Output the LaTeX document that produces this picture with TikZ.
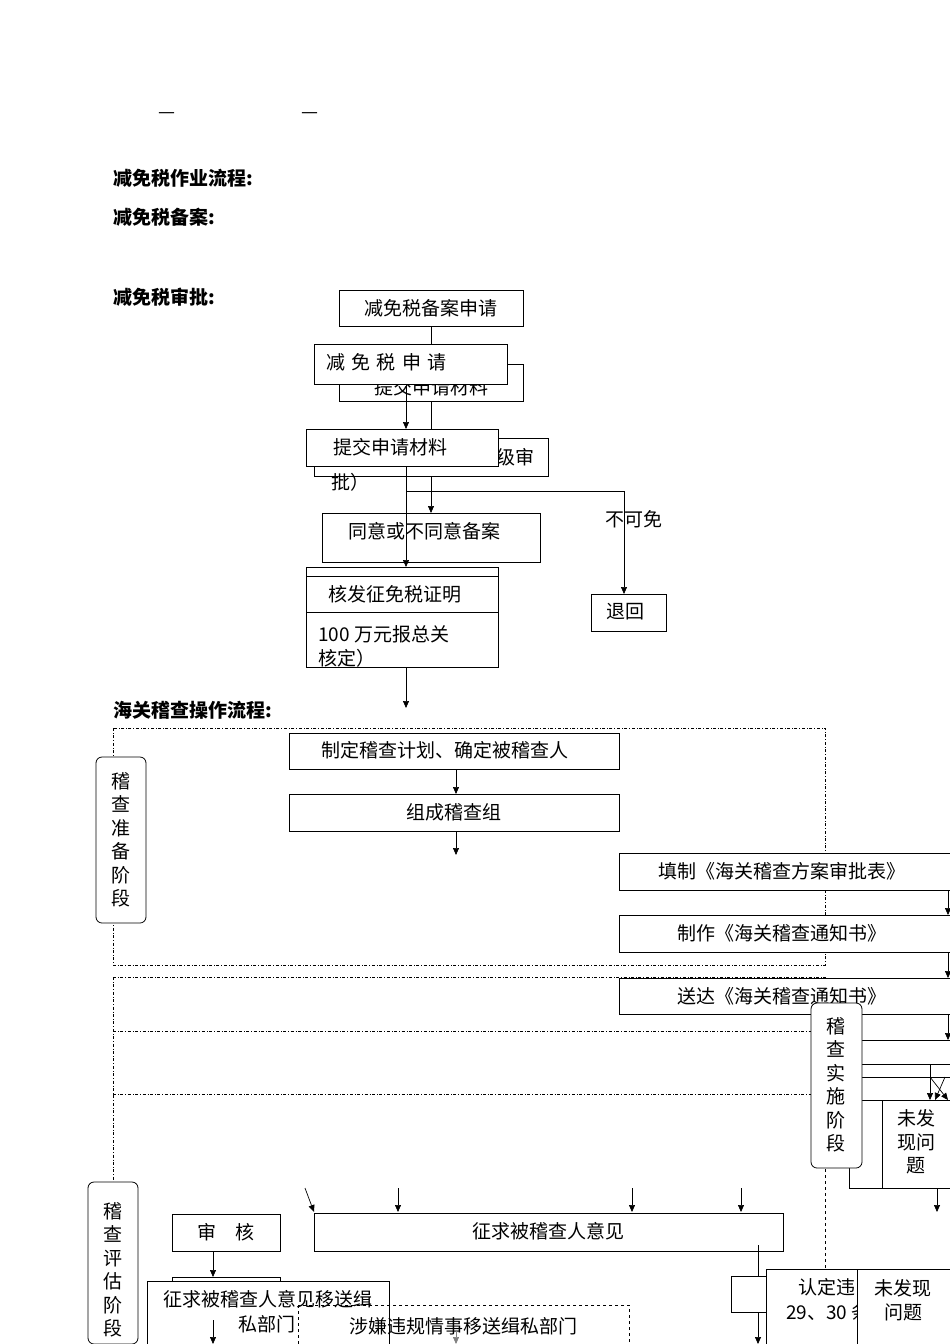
\documentclass[tikz,border=0pt]{standalone}
\usepackage{fontspec}
\setmainfont{Noto Sans CJK SC}
\usetikzlibrary{arrows.meta}
\begin{document}
\begin{tikzpicture}[x=1pt,y=-1pt,
  bx/.style={draw,fill=white,line width=0.8pt},
  ar/.style={-{Triangle[length=7pt,width=6pt]},line width=0.7pt},
  ln/.style={line width=0.7pt},
  dd/.style={dash dot,line width=0.6pt},
  rb/.style={draw,fill=white,rounded corners=6pt,line width=0.8pt},
  t/.style={font=\fontsize{19}{21}\selectfont,inner sep=0pt},
  vt/.style={font=\fontsize{19}{23.5}\selectfont,align=center,inner sep=0pt},
  hd/.style={font=\fontsize{19}{21}\selectfont\bfseries,anchor=west,inner sep=0pt}]
\useasboundingbox (0,0) rectangle (950,1344);
\fill[white] (0,0) rectangle (950,1344);
\node[t] (d1) at (167,116) {—};
\node[t] (d2) at (310,116) {—};
\node[hd] (h1) at (113,178) {减免税作业流程:};
\node[hd] (h2) at (113,217) {减免税备案:};
\node[hd] (h3) at (113,297) {减免税审批:};
\node[hd] (h4) at (113,710) {海关稽查操作流程:};
% top flow
\draw[bx] (339,290) rectangle (523,326); \node[t] (A) at (431,308) {减免税备案申请};
\draw[ln] (431,326) -- (431,344);
\draw[bx] (339,364) rectangle (523,401); \node[t] at (431,387) {提交申请材料};
\draw[bx] (314,344) rectangle (507,384); \node[t,anchor=west] (C) at (326,362) {减\,\,免\,\,税\,\,申\,\,请};
\draw[ln] (431,401) -- (431,438);
\draw[bx] (314,438) rectangle (548,476); \node[t] at (515,457) {级审}; \node[t] at (350,482) {批）};
\draw[ar] (406,384) -- (406,429);
\draw[bx] (306,429) rectangle (498,466); \node[t] (E) at (390,447) {提交申请材料};
\draw[ar] (431,476) -- (431,513);
\draw[ln] (406,491) -- (624,491); \draw[ar] (624,491) -- (624,594);
\node[t] (bk) at (634,519) {不可免};
\draw[bx] (322,513) rectangle (540,562); \node[t] (F) at (424,531) {同意或不同意备案};
\draw[ar] (406,466) -- (406,567);
\draw[bx] (306,567) rectangle (498,667);
\node[t,anchor=west] at (318,634) {100 万元报总关};
\node[t,anchor=west] at (318,658) {核定）};
\draw[bx] (306,576) rectangle (498,612); \node[t] (H) at (395,594) {核发征免税证明};
\draw[ar] (406,667) -- (406,708);
\draw[bx] (591,594) rectangle (666,631); \node[t] (R) at (625,612) {退回};
% audit
\draw[dd] (113,728) rectangle (825,965);
\draw[dd] (113,977) -- (825,977);
\draw[dd] (113,977) -- (113,1344);
\draw[dd] (113,1031) -- (820,1031);
\draw[dd] (113,1094) -- (820,1094);
\draw[dashed,line width=0.6pt] (825,977) -- (825,1344);
\draw[rb] (96,757) rectangle (146,923); \node[vt] (P1) at (121,840) {稽\\查\\准\\备\\阶\\段};
\draw[bx] (289,733) rectangle (619,769); \node[t] (S1) at (445,750) {制定稽查计划、确定被稽查人};
\draw[ar] (456,769) -- (456,794);
\draw[bx] (289,794) rectangle (619,831); \node[t] (S2) at (454,812) {组成稽查组};
\draw[ar] (456,831) -- (456,855);
\draw[bx] (619,853) rectangle (950,890); \node[t] (S3) at (782,871) {填制《海关稽查方案审批表》};
\draw[bx] (619,915) rectangle (950,952); \node[t] (S4) at (782,933) {制作《海关稽查通知书》};
\draw[bx] (619,978) rectangle (950,1014); \node[t] (S5) at (782,996) {送达《海关稽查通知书》};
\draw[ar] (948,890) -- (948,915);
\draw[ar] (948,952) -- (948,978);
\draw[ar] (948,1014) -- (948,1040);
\draw[ln] (862,1040) -- (950,1040);
\draw[ln] (862,1064) -- (950,1064);
\draw[ln] (862,1077) -- (950,1077);
\draw[ar] (930,1064) -- (930,1100);
\draw[ar] (945,1077) -- (935,1100);
\draw[ar] (930,1077) -- (948,1100);
\draw[bx] (849,1100) rectangle (950,1188);
\draw[bx] (882,1100) rectangle (950,1188);
\node[vt] (NF) at (916,1142) {未发\\现问\\题};
\draw[rb] (811,1003) rectangle (862,1168); \node[vt] (P2) at (836,1085) {稽\\查\\实\\施\\阶\\段};
\draw[ar] (937,1188) -- (937,1212);
\draw[rb] (88,1182) rectangle (138,1344); \node[vt] (P3) at (113,1270) {稽\\查\\评\\估\\阶\\段};
\draw[ar] (305,1188) -- (314,1212);
\draw[ar] (398,1188) -- (398,1212);
\draw[ar] (632,1188) -- (632,1212);
\draw[ar] (741,1188) -- (741,1212);
\draw[bx] (314,1213) rectangle (783,1251); \node[t] (Q) at (548,1231) {征求被稽查人意见};
\draw[bx] (172,1214) rectangle (280,1251); \node[t] (SH) at (226,1232) {审　核};
\draw[ar] (213,1251) -- (213,1277);
\draw[bx] (172,1277) rectangle (280,1290);
\draw[bx] (147,1281) rectangle (389,1344);
\node[t] (Y) at (268,1299) {征求被稽查人意见移送缉};
\node[t,anchor=east] at (296,1324) {私部门};
\draw[dashed,line width=0.7pt] (298,1305) rectangle (629,1344);
\node[t] (Z) at (463,1326) {涉嫌违规情事移送缉私部门};
\draw[ar] (213,1320) -- (213,1344);
\draw[ar,gray] (456,1330) -- (456,1344);
\draw[ar] (758,1245) -- (758,1344);
\draw[bx] (731,1276) rectangle (766,1312);
\draw[bx] (766,1269) rectangle (857,1344);
\node[t,anchor=west] (W) at (798,1287) {认定违};
\node[t,anchor=west] at (786,1312) {29、30 条};
\draw[bx] (857,1269) rectangle (950,1344);
\node[vt] (NF2) at (903,1300) {未发现\\问题};
\end{tikzpicture}
\end{document}
